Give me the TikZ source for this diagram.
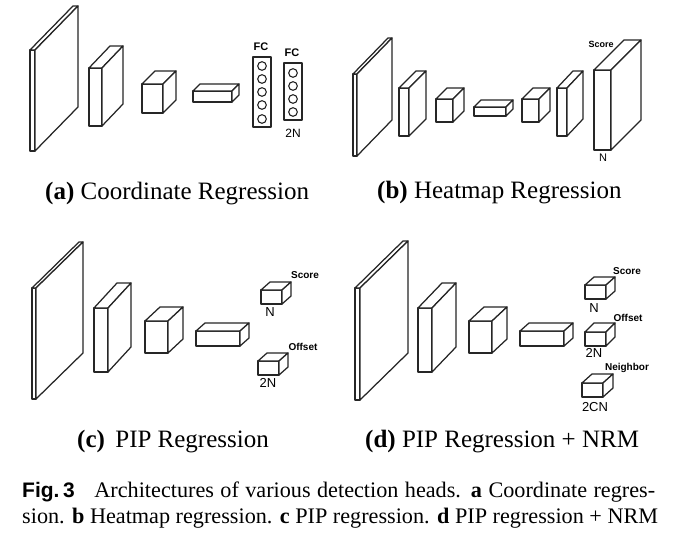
\documentclass[tikz,border=0pt]{standalone}
\usepackage{fontspec}
\setmainfont{Liberation Serif}
\setsansfont{Liberation Sans}
\tikzset{
  box/.style={draw=black!85, line width=1.25pt, fill=white, line join=round},
  lbl/.style={inner sep=0pt, font=\sffamily\bfseries\fontsize{10}{10}\selectfont},
  dim/.style={inner sep=0pt, font=\sffamily\fontsize{13}{13}\selectfont},
  sub/.style={inner sep=0pt, anchor=base west, font=\fontsize{25}{25}\selectfont},
  figcap/.style={inner sep=0pt, anchor=base west, font=\fontsize{22.2}{22}\selectfont}
}
% cuboid: x1 y1 (front top-left), x2 y2 (front bottom-right), dx dy (depth)
\newcommand{\cub}[6]{%
  \draw[box] (#1,#2) rectangle (#3,#4);
  \draw[box] (#1,#2) -- ++(#5,#6) -- ++(#3-#1,0) -- (#3,#2) -- cycle;
  \draw[box] (#3,#2) -- ++(#5,#6) -- ++(0,#4-#2) -- (#3,#4) -- cycle;
}
\begin{document}
\begin{tikzpicture}[x=1pt,y=-1pt]
\useasboundingbox (0,0) rectangle (685,545);
\fill[white] (0,0) rectangle (685,545);

% ---------- (a) ----------
\cub{30}{50}{35}{151}{43}{-44}
\cub{89}{68}{102}{126}{21}{-22}
\cub{142}{84}{163}{113}{13}{-13}
\cub{193}{91}{232}{102}{7}{-7}
\draw[box] (253,57) rectangle (271,127);
\foreach \yy in {66,79,92,105,119} \draw[box, line width=1.1pt] (262,\yy) circle (4.3);
\draw[box] (284,63) rectangle (302,120);
\foreach \yy in {73,86,99,112} \draw[box, line width=1.1pt] (293,\yy) circle (4.3);
\node[lbl, font=\sffamily\bfseries\fontsize{11}{11}\selectfont] (fc1) at (261,47) {FC};
\node[lbl, font=\sffamily\bfseries\fontsize{11}{11}\selectfont] (fc2) at (292,53) {FC};
\node[dim, font=\sffamily\fontsize{12}{12}\selectfont] (a2n) at (293,133) {2N};
\node[sub] (capa) at (45,200) {\textbf{(a)} Coordinate Regression};

% ---------- (b) ----------
\cub{353}{74}{357}{156}{35}{-36}
\cub{399}{88}{409}{136}{17}{-17}
\cub{436}{99}{453}{122}{11}{-11}
\cub{474}{107}{506}{116}{7}{-7}
\cub{522}{99}{539}{122}{11}{-11}
\cub{557}{88}{567}{136}{16}{-17}
\cub{594}{70}{611}{150}{30}{-30}
\node[lbl, font=\sffamily\bfseries\fontsize{9}{9}\selectfont] (bs) at (601,44) {Score};
\node[dim, font=\sffamily\fontsize{11}{11}\selectfont] (bn) at (603,158) {N};
\node[sub] (capb) at (377,199) {\textbf{(b)} Heatmap Regression};

% ---------- (c) ----------
\cub{32}{288}{36}{399}{47}{-46}
\cub{94}{308}{108}{372}{23}{-25}
\cub{145}{321}{168}{353}{15}{-14}
\cub{196}{331}{240}{346}{9}{-8}
\cub{261}{290}{282}{304}{9}{-8}
\cub{258}{361}{279}{375}{9}{-8}
\node[lbl] (cs) at (305,275) {Score};
\node[dim] (cn) at (270,312) {N};
\node[lbl] (co) at (303,347) {Offset};
\node[dim] (c2n) at (268,383) {2N};
\node[sub] (capc) at (77,447) {\textbf{(c)}\, PIP Regression};

% ---------- (d) ----------
\cub{355}{288}{360}{400}{48}{-47}
\cub{418}{308}{432}{372}{24}{-25}
\cub{469}{321}{492}{353}{15}{-14}
\cub{520}{331}{564}{346}{9}{-8}
\cub{585}{285}{606}{299}{9}{-8}
\cub{585}{332}{606}{346}{9}{-9}
\cub{582}{383}{603}{397}{10}{-9}
\node[lbl] (ds) at (627,271) {Score};
\node[dim] (dn) at (594,308) {N};
\node[lbl] (do) at (628,318) {Offset};
\node[dim] (d2n) at (594,353) {2N};
\node[lbl] (dnb) at (627,368) {Neighbor};
\node[dim] (d2cn) at (595,407) {2CN};
\node[sub] (capd) at (365,447) {\textbf{(d)} PIP Regression + NRM};

% ---------- figure caption ----------
\node[figcap] (cap1) at (22,497) {\makebox[633pt][s]{{\sffamily\bfseries\fontsize{21}{21}\selectfont Fig.\,3}\hspace{0.6em} Architectures of various detection heads. \textbf{a} Coordinate regres-}};
\node[figcap] (cap2) at (22,523) {sion. \textbf{b} Heatmap regression. \textbf{c} PIP regression. \textbf{d} PIP regression + NRM};
\end{tikzpicture}
\end{document}
